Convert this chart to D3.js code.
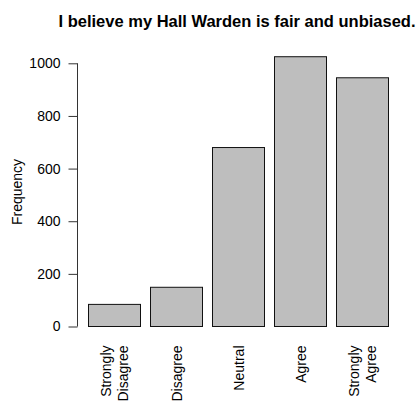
<!DOCTYPE html>
<html><head><meta charset="utf-8">
<script src="https://cdn.jsdelivr.net/npm/d3@7"></script>
<style>body{margin:0;background:#fff;overflow:hidden}svg{display:block}text{font-family:"Liberation Sans",Arial,sans-serif;fill:#000}</style>
</head><body>
<script>
const categories = ["Strongly\nDisagree","Disagree","Neutral","Agree","Strongly\nAgree"];
const values = [84, 149, 680, 1025, 945];
const yTicks = [0,200,400,600,800,1000];
const title = "I believe my Hall Warden is fair and unbiased.";
const yLabel = "Frequency";

const W=420,H=401;
const svg=d3.select("body").append("svg").attr("width",W).attr("height",H);
const y=d3.scaleLinear().domain([0,1000]).range([326.5,63.3]);
const x0=88.5, step=62, bw=52;
const xs=d3.scaleLinear().domain([0,categories.length]).range([x0,x0+step*categories.length]);
svg.append("g").selectAll("rect").data(values).join("rect")
  .attr("x",(d,i)=>xs(i)).attr("width",bw)
  .attr("y",d=>y(d)).attr("height",d=>y(0)-y(d))
  .attr("fill","#bebebe").attr("stroke","#111").attr("stroke-width",1);

const ax=svg.append("g").attr("transform","translate(77.5,0)")
  .call(d3.axisLeft(y).tickValues(yTicks).tickSize(9).tickPadding(8).tickFormat(d3.format("d")));
ax.select(".domain").attr("stroke","#333").attr("d",`M0,${y(1000)}V${y(0)}`);
ax.selectAll(".tick line").attr("stroke","#333");
ax.selectAll("text").attr("font-size",14).attr("font-family","Liberation Sans, Arial, sans-serif").attr("fill","#000");

// x labels
const lg=svg.append("g");
categories.forEach((c,i)=>{
  const lines=c.split("\n");
  const cx=xs(i)+bw/2;
  const t=lg.append("text").attr("transform",`translate(${cx},345.5) rotate(-90)`)
    .attr("text-anchor","end").attr("font-size",14);
  const lh=16.5;
  lines.forEach((l,j)=>{
    const off=(j-(lines.length-1)/2)*lh+5;
    t.append("tspan").attr("x",0).attr("y",off).text(l);
  });
});

svg.append("text").attr("x",237).attr("y",27.3).attr("text-anchor","middle")
  .attr("font-size",16.5).attr("font-weight","bold").text(title);
svg.append("text").attr("transform","translate(22,192) rotate(-90)").attr("text-anchor","middle")
  .attr("font-size",14).text(yLabel);
</script>
</body></html>
